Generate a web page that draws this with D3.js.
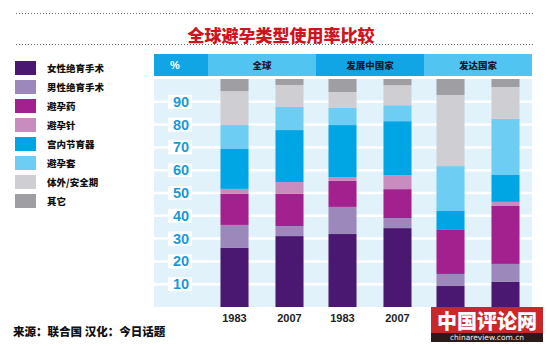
<!DOCTYPE html>
<html><head><meta charset="utf-8">
<script src="https://cdn.jsdelivr.net/npm/d3@7"></script>
<style>
html,body{margin:0;padding:0;background:#fff;}
svg{display:block;}
</style></head>
<body>
<script>
// ---- data ----
const title = "全球避孕类型使用率比较";
const categories = ["女性绝育手术","男性绝育手术","避孕药","避孕针","宫内节育器","避孕套","体外/安全期","其它"];
const colors = ["#4a1870","#9d88bb","#a3208f","#c98cbf","#00a6e4","#6dcdf3","#cfcfd3","#9e9ea3"];
const groups = ["全球","发展中国家","发达国家"];
const years = ["1983","2007"];
// order of bars: 全球1983, 全球2007, 发展中1983, 发展中2007, 发达1983, 发达2007
const femaleSterilization = [25.9, 31.1, 32.0, 34.6, 9.2, 11.0];
const maleSterilization   = [10.1, 4.4, 11.9, 4.4, 5.3, 7.9];
const pill                = [13.6, 14.1, 11.4, 12.7, 19.3, 25.4];
const injectable          = [2.2, 5.2, 1.7, 6.1, 0, 1.8];
const iud                 = [17.5, 22.8, 22.8, 23.7, 8.3, 11.8];
const condom              = [10.5, 10.1, 7.5, 7.0, 19.7, 24.6];
const withdrawal          = [14.9, 9.7, 7.0, 8.8, 31.2, 14.0];
const other               = [5.3, 2.6, 5.7, 2.7, 7.0, 3.5];
const yTicks = [10,20,30,40,50,60,70,80,90];
// year labels under the 发达国家 bars are covered by the watermark in the original
const labelledGroups = ["全球","发展中国家"];
const source = "来源：联合国  汉化：今日话题";

const seriesValues = [femaleSterilization, maleSterilization, pill, injectable, iud, condom, withdrawal, other];
const rows = [];
groups.forEach((g, gi) => years.forEach((yr, yi) => {
  const r = {group: g, year: yr};
  categories.forEach((c, ci) => r[c] = seriesValues[ci][gi*2+yi]);
  rows.push(r);
}));

const W = 548, H = 346;
const svg = d3.select("body").append("svg").attr("width", W).attr("height", H);
const cjk = "'Noto Sans CJK SC','Noto Sans',sans-serif";
const latin = "'Liberation Sans',Arial,sans-serif";

// title with dotted rules
[13, 44].forEach(y => svg.append("line").attr("x1",16).attr("x2",535).attr("y1",y+0.5).attr("y2",y+0.5)
  .attr("stroke","#666").attr("stroke-width",1).attr("stroke-dasharray","1,2"));
svg.append("text").attr("x",281).attr("y",34).attr("text-anchor","middle").attr("dominant-baseline","central")
  .attr("font-family",cjk).attr("font-weight",900).attr("font-size",17).attr("fill","#cc1520").text(title);

// legend
const leg = svg.append("g");
categories.forEach((c, i) => {
  const cy = 68 + i*19;
  leg.append("rect").attr("x",15).attr("y",cy-7).attr("width",21).attr("height",14).attr("fill",colors[i]);
  leg.append("text").attr("x",47).attr("y",cy).attr("dominant-baseline","central")
    .attr("font-family",cjk).attr("font-weight",900).attr("font-size",9.5).attr("fill","#111").text(c);
});

// scales
const x0 = d3.scaleBand().domain(groups).range([208, 532]);
const x1 = d3.scaleBand().domain(years).range([0, x0.bandwidth()]).paddingInner(0.49).paddingOuter(0.227);
const y = d3.scaleLinear().domain([0, 100]).range([307, 79]);

// header band
const hdrY = 54, hdrH = 22;
svg.append("rect").attr("x",154).attr("y",hdrY).attr("width",208-154).attr("height",hdrH).attr("fill","#12a5e5");
svg.append("text").attr("x",175).attr("y",hdrY+hdrH/2).attr("text-anchor","middle").attr("dominant-baseline","central")
  .attr("font-family",latin).attr("font-weight",700).attr("font-size",11).attr("fill","#fff").text("%");
groups.forEach((g, i) => {
  svg.append("rect").attr("x",x0(g)).attr("y",hdrY).attr("width",x0.bandwidth()).attr("height",hdrH)
    .attr("fill", i % 2 === 0 ? "#52c4f1" : "#12a5e5");
  svg.append("text").attr("x",x0(g)+x0.bandwidth()/2).attr("y",hdrY+hdrH/2).attr("text-anchor","middle")
    .attr("dominant-baseline","central").attr("font-family",cjk).attr("font-weight",900).attr("font-size",9.5)
    .attr("fill","#1a1a33").text(g);
});

// plot background
svg.append("rect").attr("x",154).attr("y",y(100)).attr("width",532-154).attr("height",y(0)-y(100)).attr("fill","#e2f2fb");

// gridlines + tick labels
const yAxis = svg.append("g");
yTicks.forEach(t => {
  yAxis.append("line").attr("x1",154).attr("x2",532).attr("y1",y(t)).attr("y2",y(t)).attr("stroke","#fff").attr("stroke-width",2.5);
  yAxis.append("rect").attr("x",168).attr("y",y(t)-7).attr("width",24).attr("height",14).attr("fill","#fff");
  yAxis.append("text").attr("x",181).attr("y",y(t)).attr("text-anchor","middle").attr("dominant-baseline","central")
    .attr("font-family",latin).attr("font-weight",700).attr("font-size",14.5).attr("fill","#1b9ad6").text(t);
});

// stacked bars
const stack = d3.stack().keys(categories);
const stacked = stack(rows);
const bars = svg.append("g");
stacked.forEach((s, ci) => {
  bars.selectAll(null).data(s).join("rect")
    .attr("x", d => x0(d.data.group) + x1(d.data.year))
    .attr("width", x1.bandwidth())
    .attr("y", d => y(d[1]))
    .attr("height", d => Math.max(0, y(d[0]) - y(d[1])))
    .attr("fill", colors[ci]);
});

// year labels
rows.filter(r => labelledGroups.includes(r.group)).forEach(r => {
  svg.append("text").attr("x", x0(r.group) + x1(r.year) + x1.bandwidth()/2).attr("y",318)
    .attr("text-anchor","middle").attr("dominant-baseline","central")
    .attr("font-family",latin).attr("font-weight",700).attr("font-size",11).attr("fill","#222").text(r.year);
});

// source
svg.append("text").attr("x",13).attr("y",331).attr("dominant-baseline","central")
  .attr("font-family",cjk).attr("font-weight",900).attr("font-size",11.5).attr("fill","#111").text(source);

// watermark
const wm = svg.append("g");
wm.append("rect").attr("x",431).attr("y",307).attr("width",112).attr("height",26).attr("fill","#c9282b");
wm.append("rect").attr("x",431).attr("y",333).attr("width",112).attr("height",9).attr("fill","#2a1a1a");
wm.append("text").attr("x",487).attr("y",320).attr("text-anchor","middle").attr("dominant-baseline","central")
  .attr("font-family",cjk).attr("font-weight",900).attr("font-size",20).attr("fill","#fff").text("中国评论网");
wm.append("text").attr("x",487).attr("y",337.5).attr("text-anchor","middle").attr("dominant-baseline","central")
  .attr("font-family","'DejaVu Sans',sans-serif").attr("font-size",7.5).attr("fill","#eee").text("chinareview.com.cn");
</script>
</body></html>
